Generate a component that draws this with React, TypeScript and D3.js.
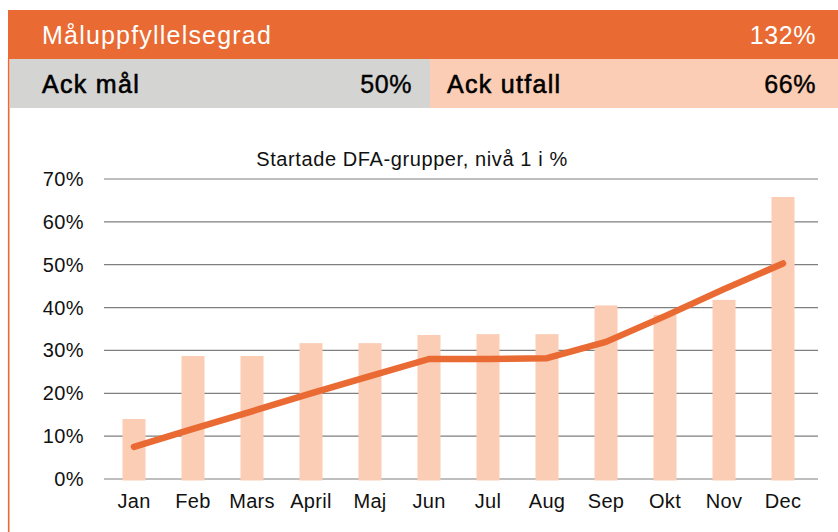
import React from "react";
import * as d3 from "d3";

const months = ["Jan", "Feb", "Mars", "April", "Maj", "Jun", "Jul", "Aug", "Sep", "Okt", "Nov", "Dec"];
const utfall = [14, 28.7, 28.7, 31.7, 31.7, 33.6, 33.8, 33.8, 40.5, 38.3, 41.8, 65.8];
const mal = [7.5, 11.7, 15.8, 20, 24, 28, 28, 28.2, 32, 38, 44.3, 50.3];
const yTicks = [0, 10, 20, 30, 40, 50, 60, 70];

const headerTitle = "Måluppfyllelsegrad";
const headerValue = "132%";
const ackMalLabel = "Ack mål";
const ackMalValue = "50%";
const ackUtfallLabel = "Ack utfall";
const ackUtfallValue = "66%";
const chartTitle = "Startade DFA-grupper, nivå 1 i %";

const ORANGE = "#E96A33";
const PEACH = "#FBCDB5";
const GRAY = "#D4D4D3";
const FONT = "'Liberation Sans', Arial, Helvetica, sans-serif";

export default function App() {
  const W = 838;
  const H = 532;
  const x = d3.scaleBand<string>().domain(months).range([104.5, 812.5]).paddingInner(0.61).paddingOuter(0.305);
  const y = d3.scaleLinear().domain([0, 70]).range([479, 179]);
  const line = d3
    .line<number>()
    .x((_, i) => (x(months[i]) as number) + x.bandwidth() / 2)
    .y((d) => y(d));

  return (
    <svg
      width={W}
      height={H}
      style={{ position: "absolute", left: 0, top: 0, background: "#fff" }}
      fontFamily={FONT}
    >
      {/* header */}
      <rect x={8} y={10} width={W - 8} height={49} fill={ORANGE} />
      <text x={42} y={43.5} fill="#fff" fontSize={25} letterSpacing={1.2}>
        {headerTitle}
      </text>
      <text x={816} y={43.5} fill="#fff" fontSize={25} textAnchor="end" letterSpacing={0.6}>
        {headerValue}
      </text>
      <rect x={10} y={59} width={420} height={49} fill={GRAY} />
      <rect x={430} y={59} width={W - 430} height={49} fill={PEACH} />
      <text x={42} y={92.5} fill="#000" stroke="#000" strokeWidth={0.6} fontSize={25} letterSpacing={1.3}>
        {ackMalLabel}
      </text>
      <text x={412} y={92.5} fill="#000" stroke="#000" strokeWidth={0.4} fontSize={25} textAnchor="end" letterSpacing={0.6}>
        {ackMalValue}
      </text>
      <text x={447} y={92.5} fill="#000" stroke="#000" strokeWidth={0.6} fontSize={25} letterSpacing={1.3}>
        {ackUtfallLabel}
      </text>
      <text x={816} y={92.5} fill="#000" stroke="#000" strokeWidth={0.4} fontSize={25} textAnchor="end" letterSpacing={0.6}>
        {ackUtfallValue}
      </text>
      <line x1={8.7} x2={8.7} y1={59} y2={H} stroke={ORANGE} strokeWidth={1.6} />

      {/* chart title */}
      <text x={412} y={166} fontSize={20} textAnchor="middle" fill="#111" letterSpacing={0.6}>
        {chartTitle}
      </text>

      {/* grid + y labels */}
      {yTicks.map((t) => (
        <g key={t}>
          <line x1={104} x2={818} y1={y(t)} y2={y(t)} stroke="#7f7f7f" strokeWidth={1.2} />
          <text x={84} y={y(t) + 7} fontSize={20} textAnchor="end" fill="#111" letterSpacing={0.4}>
            {t}%
          </text>
        </g>
      ))}

      {/* bars */}
      {utfall.map((v, i) => (
        <rect
          key={months[i]}
          x={x(months[i])}
          y={y(v)}
          width={x.bandwidth()}
          height={y(0) - y(v) + 1.5}
          fill={PEACH}
        />
      ))}

      {/* line */}
      <path d={line(mal) || ""} fill="none" stroke={ORANGE} strokeWidth={6.5} strokeLinecap="round" strokeLinejoin="round" />

      {/* x labels */}
      {months.map((m) => (
        <text
          key={m}
          x={(x(m) as number) + x.bandwidth() / 2}
          y={508}
          fontSize={20}
          textAnchor="middle"
          fill="#111"
          letterSpacing={0.3}
        >
          {m}
        </text>
      ))}
    </svg>
  );
}
